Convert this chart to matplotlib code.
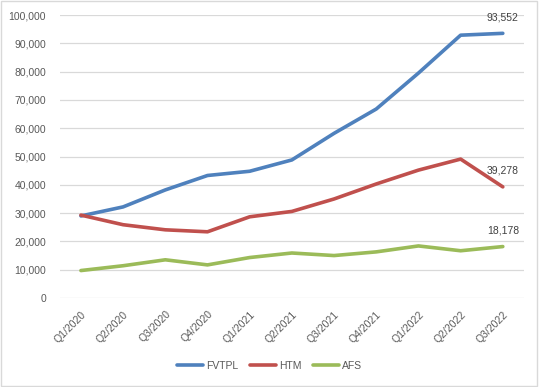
import matplotlib.pyplot as plt
from matplotlib.patches import Rectangle
from matplotlib.ticker import FuncFormatter, MultipleLocator

quarters = ["Q1/2020", "Q2/2020", "Q3/2020", "Q4/2020", "Q1/2021", "Q2/2021",
            "Q3/2021", "Q4/2021", "Q1/2022", "Q2/2022", "Q3/2022"]
fvtpl = [29000, 32200, 38200, 43300, 44800, 48800, 58200, 66800, 79500, 92900, 93552]
htm = [29300, 25900, 24100, 23400, 28700, 30600, 35000, 40300, 45200, 49100, 39278]
afs = [9700, 11400, 13500, 11700, 14300, 15900, 15000, 16300, 18400, 16700, 18178]

plt.rcParams["font.family"] = ["Liberation Sans", "DejaVu Sans"]
TXT = "#595959"

fig = plt.figure(figsize=(5.39, 3.87), dpi=100)
ax = fig.add_axes([0.111, 0.230, 0.861, 0.731])

x = range(len(quarters))
series = [("FVTPL", fvtpl, "#4F81BD"), ("HTM", htm, "#C0504D"), ("AFS", afs, "#9BBB59")]
for name, vals, col in series:
    ax.plot(x, vals, color=col, lw=2.6, label=name, solid_capstyle="round")
    ax.annotate(f"{vals[-1]:,}", (len(quarters) - 1, vals[-1]), xytext=(0, 8),
                textcoords="offset points", ha="center", va="bottom",
                fontsize=7.5, color="#404040")

ax.set_xlim(-0.5, len(quarters) - 0.5)
ax.set_ylim(0, 100000)
ax.yaxis.set_major_locator(MultipleLocator(10000))
ax.yaxis.set_major_formatter(FuncFormatter(lambda v, p: f"{int(v):,}"))
ax.set_xticks(list(x))
ax.set_xticklabels(quarters, rotation=45, ha="right", rotation_mode="anchor")
ax.tick_params(axis="both", length=0, labelsize=7.5, labelcolor=TXT)
ax.tick_params(axis="x", pad=8)
ax.tick_params(axis="y", pad=10)
ax.grid(axis="y", color="#D9D9D9", lw=0.9)
ax.set_axisbelow(True)
for s in ax.spines.values():
    s.set_visible(False)

fig.legend(loc="center", bbox_to_anchor=(0.5, 0.054), ncol=3, frameon=False,
           fontsize=7.5, labelcolor=TXT, handlelength=2.5, handletextpad=0.3,
           columnspacing=1.1)

fig.patches.append(Rectangle((0.002, 0.003), 0.995, 0.994, transform=fig.transFigure,
                             fill=False, edgecolor="#D9D9D9", lw=1))

fig.savefig("out.png", dpi=100, facecolor="white")
